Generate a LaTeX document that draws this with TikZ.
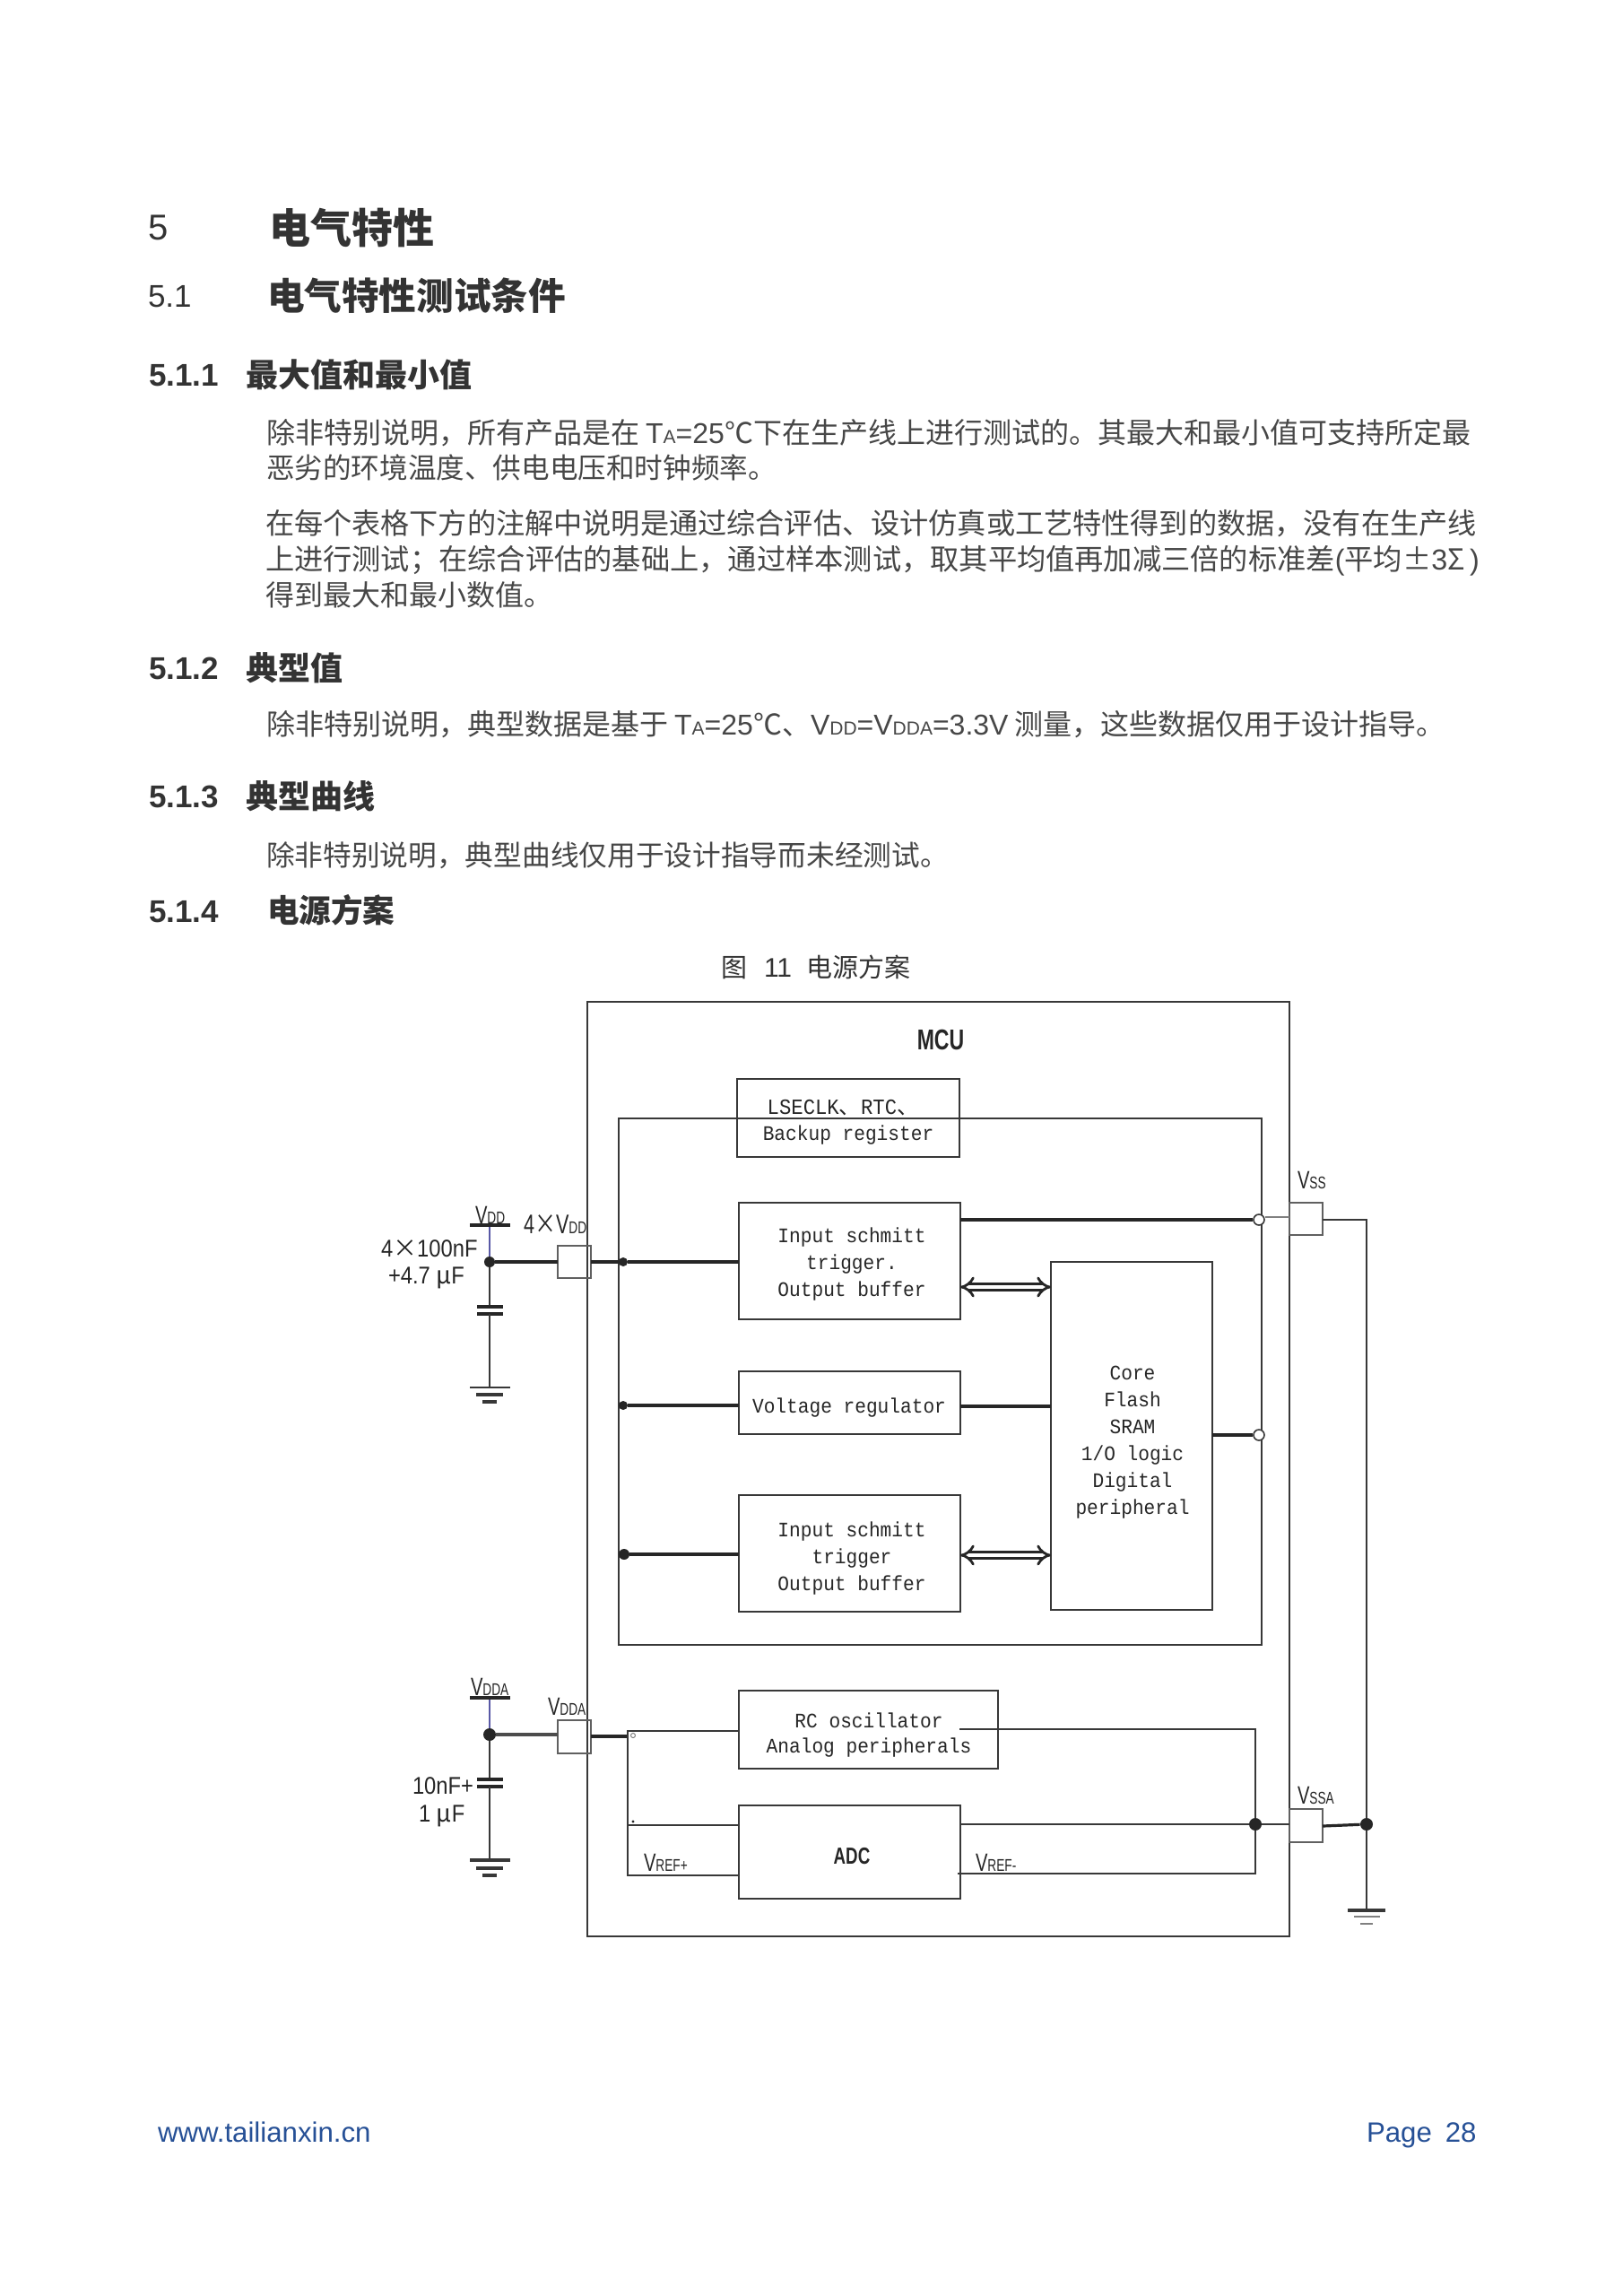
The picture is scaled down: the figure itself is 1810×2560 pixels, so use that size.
\documentclass[tikz,border=0pt]{standalone}
\usepackage{fontspec}
\usetikzlibrary{arrows.meta}
\setmainfont{Liberation Sans}
\newfontfamily\cjk{Noto Sans CJK SC}
\newfontfamily\mono[FakeStretch=0.92]{Liberation Mono}
\newfontfamily\narrow[FakeStretch=0.72]{Liberation Sans}
\newfontfamily\semi[FakeStretch=0.88]{Liberation Sans}
\newfontfamily\cjknarrow[FakeStretch=0.8]{Noto Sans CJK SC}
\definecolor{ink}{gray}{0.22}
\definecolor{body}{gray}{0.2}
\definecolor{parab}{gray}{0.28}
\definecolor{foot}{RGB}{38,80,150}
\tikzset{
  txt/.style={inner sep=0pt,outer sep=0pt,anchor=base west,text=body},
  h1/.style={txt,font=\fontsize{23}{23}\cjk\bfseries},
  h2/.style={txt,font=\fontsize{20.8}{21}\cjk\bfseries},
  h3/.style={txt,font=\fontsize{18}{18}\cjk\bfseries},
  hnum/.style={txt,font=\fontsize{17.5}{17}\selectfont\bfseries},
  hnumr/.style={txt,font=\fontsize{20}{20}\selectfont},
  para/.style={txt,text=parab,font=\fontsize{16}{16}\cjk},
  foottxt/.style={txt,text=foot,font=\fontsize{15.6}{16}\selectfont},
  boxst/.style={draw=ink,line width=1.1pt,inner sep=0pt,outer sep=0pt,anchor=north west},
  pinbox/.style={draw=gray!75!black,line width=0.9pt,inner sep=0pt,outer sep=0pt,anchor=north west},
  wire/.style={draw=ink,line width=1.1pt},
  thick wire/.style={draw=black!85,line width=1.6pt},
  thin wire/.style={draw=gray,line width=0.8pt},
  dotn/.style={circle,fill=black!85,inner sep=0pt,minimum size=6pt},
  odot/.style={circle,draw=ink,fill=white,line width=0.8pt,inner sep=0pt,minimum size=6pt},
  mtxt/.style={inner sep=0pt,outer sep=0pt,text=black!85,align=center,font=\fontsize{11.5}{15}\mono},
  lab/.style={inner sep=0pt,outer sep=0pt,text=black!85,anchor=base west,font=\fontsize{14}{14}\narrow},
  capl/.style={lab,font=\fontsize{13.5}{14}\semi},
  gnd/.style={draw=ink,line width=1.2pt},
  dbl/.style={double=white,double distance=2.4pt,line width=1.4pt,draw=black!85},
}
\newcommand{\rbox}[6]{\node[#6,minimum width={(#4-#2)*0.5pt},minimum height={(#5-#3)*0.5pt}] (#1) at (#2,#3) {};}
\newcommand{\la}[1]{{\fontspec{Liberation Sans}#1}}
\newcommand{\lasub}[1]{{\fontspec{Liberation Sans}\fontsize{10.5}{10}\selectfont #1}}
\newcommand{\vs}[2]{V{\fontsize{9.5}{9}\selectfont #2}}
\begin{document}
\begin{tikzpicture}[x=0.5pt,y=-0.5pt]
\useasboundingbox[fill=white] (0,0) rectangle (1810,2560);

% page text
\node[hnumr] (n5) at (165,267) {5};
\node[h1] (t5) at (300,271) {电气特性};
\node[hnumr,font=\fontsize{17.5}{18}\selectfont] (n51) at (165,342) {5.1};
\node[h2] (t51) at (298,345) {电气特性测试条件};
\node[hnum] (n511) at (166,430) {5.1.1};
\node[h3] (t511) at (274,431) {最大值和最小值};
\node[para] (p1a) at (297,494) {除非特别说明，所有产品是在 \la{T}\lasub{A}\la{=25}℃下在生产线上进行测试的。其最大和最小值可支持所定最};
\node[para,font=\fontsize{15.8}{16}\cjk] (p1b) at (297,533) {恶劣的环境温度、供电电压和时钟频率。};
\node[para,font=\fontsize{16.08}{16}\cjk] (p2a) at (296,595) {在每个表格下方的注解中说明是通过综合评估、设计仿真或工艺特性得到的数据，没有在生产线};
\node[para,font=\fontsize{16.12}{16}\cjk] (p2b) at (296,635) {上进行测试；在综合评估的基础上，通过样本测试，取其平均值再加减三倍的标准差\la{(}平均±\la{3}Σ\,\la{)}};
\node[para] (p2c) at (296,675) {得到最大和最小数值。};
\node[hnum] (n512) at (166,757) {5.1.2};
\node[h3] (t512) at (274,758) {典型值};
\node[para] (p3) at (297,819) {除非特别说明，典型数据是基于 \la{T}\lasub{A}\la{=25}℃、\la{V}\lasub{DD}\la{=V}\lasub{DDA}\la{=3.3V} 测量，这些数据仅用于设计指导。};
\node[hnum] (n513) at (166,900) {5.1.3};
\node[h3] (t513) at (274,901) {典型曲线};
\node[para,font=\fontsize{15.85}{16}\cjk] (p4) at (297,965) {除非特别说明，典型曲线仅用于设计指导而未经测试。};
\node[hnum] (n514) at (166,1028) {5.1.4};
\node[h3,font=\fontsize{17.8}{18}\cjk\bfseries] (t514) at (298,1028) {电源方案};
\node[txt,font=\fontsize{14.5}{15}\cjk] (capa) at (804,1089) {图};
\node[txt,font=\fontsize{15}{15}\selectfont] (capb) at (852,1089) {11};
\node[txt,font=\fontsize{14.5}{15}\cjk] (capc) at (899,1089) {电源方案};
\node[foottxt] (url) at (176,2388) {www.tailianxin.cn};
\node[foottxt] (pg) at (1524,2388) {Page\hspace{7.5pt}28};

% boxes
\rbox{mcu}{655}{1117}{1438}{2159}{boxst}
\rbox{bus}{690}{1247}{1407}{1834}{boxst}
\rbox{bak}{822}{1203}{1070}{1290}{boxst}
\rbox{in1}{824}{1341}{1071}{1471}{boxst}
\rbox{reg}{824}{1529}{1071}{1599}{boxst}
\rbox{in2}{824}{1667}{1071}{1797}{boxst}
\rbox{core}{1172}{1407}{1352}{1795}{boxst}
\rbox{rc}{824}{1885}{1113}{1972}{boxst}
\rbox{adc}{824}{2013}{1071}{2117}{boxst}
\rbox{pvdd}{622}{1389}{659}{1425}{pinbox}
\rbox{pvss}{1438}{1341}{1475}{1377}{pinbox}
\rbox{pvdda}{622}{1918}{659}{1955}{pinbox}
\rbox{pvssa}{1438}{2017}{1475}{2054}{pinbox}

% box texts
\node[mtxt,font=\fontsize{16}{16}\narrow\bfseries] (tmcu) at (1049,1159) {MCU};
\node[mtxt,font=\fontsize{12.1}{14}\mono] (tb1) at (940,1235) {LSECLK{\cjk 、}RTC{\cjk 、}};
\node[mtxt] (tb2) at (946,1266) {Backup register};
\node[mtxt] (ti1) at (950,1410) {\makebox[0pt]{Input schmitt}\\\makebox[0pt]{trigger.}\\\makebox[0pt]{Output buffer}};
\node[mtxt] (tr) at (947,1570) {Voltage regulator};
\node[mtxt] (ti2) at (950,1738) {\makebox[0pt]{Input schmitt}\\\makebox[0pt]{trigger}\\\makebox[0pt]{Output buffer}};
\node[mtxt] (tc) at (1263,1608) {Core\\Flash\\SRAM\\1/O logic\\Digital\\peripheral};
\node[mtxt,font=\fontsize{11.5}{14}\mono] (tro) at (969,1935) {RC oscillator\\Analog peripherals};
\node[mtxt,font=\fontsize{13}{14}\narrow\bfseries] (tadc) at (950,2070) {ADC};

% VDD side
\coordinate (vddtop) at (546,1366);
\coordinate (vddj) at (546,1407);
\coordinate (vddc1) at (546,1457);
\coordinate (vddc2) at (546,1465);
\coordinate (vddg) at (546,1547);
\node[dotn] (jvdd) at (vddj) {};
\draw[thin wire,draw=blue!30!gray] (vddtop) -- (jvdd);
\draw[thick wire] (524,1366) -- (569,1366);
\draw[wire] (jvdd) -- (vddc1);
\draw[thick wire] (532,1457) -- (561,1457);
\draw[thick wire] (532,1465) -- (561,1465);
\draw[wire] (vddc2) -- (vddg);
\draw[gnd] (524,1547) -- (569,1547);
\draw[gnd,line width=1.6pt] (531,1555) -- (561,1555);
\draw[gnd,line width=1.6pt] (538,1563) -- (554,1563);
\draw[thick wire] (jvdd) -- (pvdd.west |- jvdd);
\node[dotn,minimum size=5pt] (jin1) at (695,1407) {};
\draw[thick wire] (pvdd.east |- jin1) -- (jin1);
\draw[thick wire] (jin1) -- (in1.west |- jin1);
\node[dotn,minimum size=5pt] (jreg) at (695,1567) {};
\draw[thick wire] (jreg) -- (reg.west |- jreg);
\node[dotn,minimum size=6pt] (jin2) at (696,1733) {};
\draw[thick wire] (jin2) -- (in2.west |- jin2);
\draw[thick wire] (reg.east |- 0,1568) -- (core.west |- 0,1568);
\draw[dbl,{Implies[]}-{Implies[]}] (in1.east |- 0,1435) -- (core.west |- 0,1435);
\draw[dbl,{Implies[]}-{Implies[]}] (in2.east |- 0,1734) -- (core.west |- 0,1734);

% VSS side
\node[odot] (oin1) at (1404,1360) {};
\node[odot] (ocore) at (1404,1600) {};
\draw[thick wire] (in1.east |- oin1) -- (oin1);
\draw[thick wire] (core.east |- ocore) -- (ocore);
\draw[thin wire] (oin1.east |- 0,1357) -- (pvss.west |- 0,1357);
\coordinate (gtop) at (1524,1360);
\node[dotn,minimum size=7pt] (jvssa2) at (1524,2034) {};
\coordinate (gbot) at (1524,2130);
\draw[wire] (pvss.east |- gtop) -- (gtop) -- (jvssa2);
\draw[wire] (jvssa2) -- (gbot);
\draw[thick wire] (pvssa.east |- 0,2036) -- (jvssa2);
\draw[gnd,line width=1.6pt] (1503,2130) -- (1545,2130);
\draw[gnd,line width=1.3pt,gray] (1510,2137) -- (1539,2137);
\draw[gnd,line width=1.3pt,gray] (1517,2145) -- (1531,2145);

% VDDA side
\coordinate (daTop) at (546,1893);
\node[dotn,minimum size=7pt] (jvdda) at (546,1934) {};
\draw[thin wire,draw=blue!30!gray] (daTop) -- (jvdda);
\draw[thick wire] (524,1893) -- (569,1893);
\draw[wire] (jvdda) -- (546,1984);
\draw[thick wire] (532,1984) -- (561,1984);
\draw[thick wire] (532,1992) -- (561,1992);
\draw[wire] (546,1992) -- (546,2074);
\draw[gnd,line width=1.8pt] (524,2074) -- (569,2074);
\draw[gnd,line width=1.6pt] (531,2083) -- (561,2083);
\draw[gnd,line width=1.8pt] (538,2091) -- (554,2091);
\draw[thick wire,draw=gray!60!black] (jvdda) -- (pvdda.west |- jvdda);
\coordinate (rail1) at (700,1930);
\coordinate (rail2) at (700,2035);
\coordinate (rail3) at (700,2091);
\draw[thick wire] (pvdda.east |- 0,1936) -- (700,1936);
\draw[wire] (rc.west |- rail1) -- (rail1) -- (rail3) -- (adc.west |- rail3);
\draw[wire] (rail2) -- (adc.west |- rail2);
\node[odot,minimum size=2.5pt,line width=0.5pt,draw=gray] (tick1) at (706,1935) {};
\node[dotn,minimum size=1.6pt] (tick2) at (706,2031) {};

% VSSA side
\coordinate (rc2) at (1070,1928);
\node[dotn,minimum size=7pt] (jvssa) at (1400,2034) {};
\coordinate (ref1) at (1068,2089);
\coordinate (ref2) at (1400,2089);
\coordinate (rc3) at (1400,1928);
\draw[wire] (rc2) -- (rc3) -- (jvssa) -- (ref2) -- (ref1);
\draw[wire] (adc.east |- jvssa) -- (jvssa) -- (pvssa.west |- jvssa);

% labels
\node[lab] (lvdd) at (530,1364) {\vs{V}{DD}};
\node[lab] (l4vdd) at (584,1375) {\fontsize{15}{15}\selectfont 4{\cjknarrow ×}\vs{V}{DD}};
\node[capl] (lcap1) at (425,1401) {4{\cjk ×}100nF};
\node[capl] (lcap2) at (433,1431) {+4.7 {\cjk μ}F};
\node[lab] (lss) at (1447,1325) {\vs{V}{SS}};
\node[lab] (ldda) at (525,1890) {\vs{V}{DDA}};
\node[lab] (lpdda) at (611,1912) {\vs{V}{DDA}};
\node[capl] (lcap3) at (460,2000) {10nF+};
\node[capl] (lcap4) at (467,2031) {1 {\cjk μ}F};
\node[lab] (lsa) at (1447,2011) {\vs{V}{SSA}};
\node[lab] (lrp) at (718,2086) {\vs{V}{REF+}};
\node[lab] (lrm) at (1088,2086) {\vs{V}{REF-}};
\end{tikzpicture}
\end{document}
